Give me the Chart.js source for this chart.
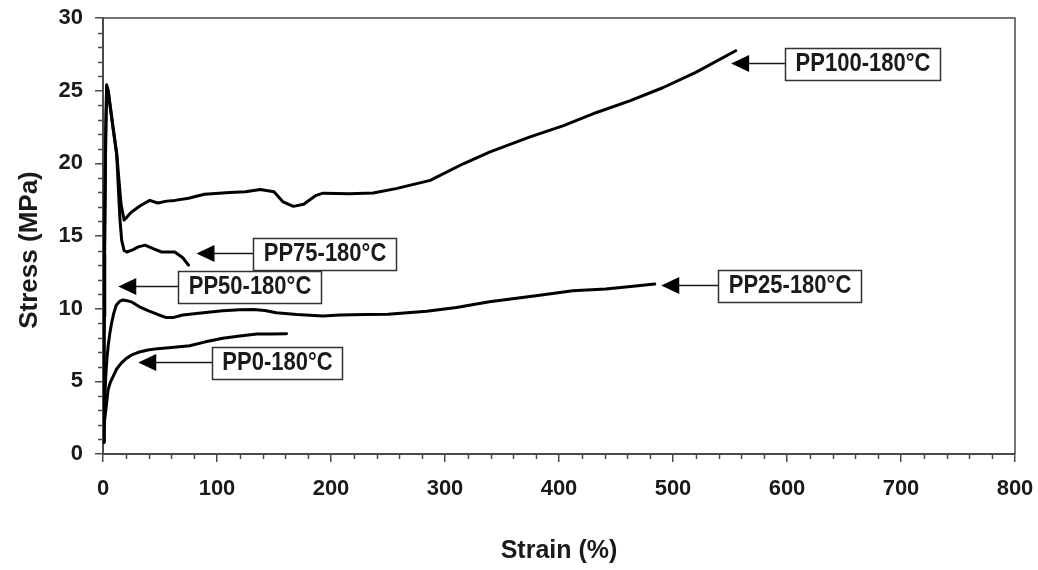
<!DOCTYPE html>
<html>
<head>
<meta charset="utf-8">
<script src="https://cdn.jsdelivr.net/npm/chart.js@4/dist/chart.umd.min.js"></script>
<style>
  html, body { margin: 0; padding: 0; background: #fff; }
  canvas { display: block; }
</style>
</head>
<body>
<canvas id="chart" width="1038" height="570"></canvas>
<script>
// Tensile stress-strain curves of PP blends processed at 180 °C.
// Strain in %, stress in MPa.

const pp100Strain = [0, 0.8, 1.6, 2.4, 3.2, 4.6, 6.1, 9, 12, 15.8, 18.5, 21, 25, 33, 41, 48, 56, 63, 75, 89, 111, 125, 138, 150, 158, 167, 176, 187, 193, 216, 237, 257, 287, 316, 339, 374, 404, 433, 462, 491, 520, 555];
const pp100Stress = [0.8, 8, 16, 22, 25.4, 25.0, 24.1, 22.4, 20.7, 17.2, 16.1, 16.3, 16.65, 17.1, 17.45, 17.27, 17.4, 17.45, 17.6, 17.87, 18.0, 18.05, 18.2, 18.05, 17.34, 17.04, 17.18, 17.8, 17.95, 17.9, 17.96, 18.26, 18.83, 19.97, 20.77, 21.8, 22.6, 23.5, 24.3, 25.2, 26.26, 27.75];

const pp75Strain = [0, 0.8, 1.6, 2.4, 3.2, 4.6, 6.1, 9, 12, 14.9, 16.4, 18.5, 20.8, 26, 31, 36.8, 45, 51.5, 63, 70, 75];
const pp75Stress = [0.8, 8, 16, 22, 25.3, 24.9, 24.0, 22.3, 20.6, 16.1, 14.7, 14.0, 13.9, 14.05, 14.25, 14.37, 14.1, 13.9, 13.9, 13.5, 13.0];

const pp50Strain = [0, 0.5, 1.0, 1.4, 1.7];
const pp50Stress = [0.8, 5, 9.5, 12.5, 13.7];

const pp25Strain = [0, 0.8, 1.6, 2.6, 3.5, 4.6, 6, 7.5, 9.5, 11.7, 14.5, 17.5, 21, 24.8, 32, 40, 48, 55, 62, 70, 88, 105, 120, 132, 142, 152, 170, 193, 208, 230, 250, 284, 310, 339, 383, 412, 441, 465, 484];
const pp25Stress = [0.8, 2.4, 4.0, 5.6, 6.6, 7.5, 8.3, 9.0, 9.7, 10.25, 10.5, 10.6, 10.55, 10.47, 10.13, 9.85, 9.6, 9.4, 9.4, 9.56, 9.72, 9.86, 9.92, 9.95, 9.88, 9.72, 9.6, 9.49, 9.56, 9.6, 9.62, 9.83, 10.08, 10.47, 10.93, 11.23, 11.35, 11.55, 11.69];

const pp0Strain = [0, 0.8, 1.5, 2.9, 4.4, 6.5, 8.8, 12, 16, 20, 24.8, 31, 39.4, 48, 60, 76, 89, 105, 120, 135, 148, 161];
const pp0Stress = [0.8, 1.6, 2.4, 3.3, 4.4, 4.95, 5.33, 5.85, 6.25, 6.55, 6.8, 7.0, 7.16, 7.25, 7.33, 7.45, 7.7, 7.96, 8.12, 8.26, 8.26, 8.28];

const seriesNames = ['PP100-180°C', 'PP75-180°C', 'PP50-180°C', 'PP25-180°C', 'PP0-180°C'];
const xTicks = [0, 100, 200, 300, 400, 500, 600, 700, 800];
const yTicks = [0, 5, 10, 15, 20, 25, 30];
const yTitle = 'Stress (MPa)';
const xTitle = 'Strain (%)';

// Callout placement: arrow tip and left edge of the label box, in axis units.
const callouts = [
  { name: seriesNames[0], tipX: 551, tipY: 26.88, boxX: 598 },
  { name: seriesNames[1], tipX: 82, tipY: 13.8, boxX: 131.5 },
  { name: seriesNames[2], tipX: 13.4, tipY: 11.55, boxX: 66 },
  { name: seriesNames[3], tipX: 489.7, tipY: 11.62, boxX: 539.4 },
  { name: seriesNames[4], tipX: 30.9, tipY: 6.36, boxX: 95.3 }
];

const FAMILY = "'Liberation Sans', Arial, sans-serif";
const TICK_SIZE = 22;
const TITLE_SIZE = 25;
const NOTE_SIZE = 22;
const INK = '#1a1a1a';
const AXIS = '#4a4a4a';

// Plot rectangle inside the 1038x570 canvas.
const PLOT = { left: 103, top: 18, right: 1015, bottom: 454 };

function toPoints(xs, ys) {
  return xs.map((x, i) => ({ x: x, y: ys[i] }));
}

const curves = [
  [pp100Strain, pp100Stress],
  [pp75Strain, pp75Stress],
  [pp50Strain, pp50Stress],
  [pp25Strain, pp25Stress],
  [pp0Strain, pp0Stress]
];

const datasets = curves.map((c, i) => ({
  label: seriesNames[i],
  data: toPoints(c[0], c[1]),
  borderColor: '#000',
  borderWidth: 3,
  pointRadius: 0,
  tension: 0,
  fill: false,
  borderJoinStyle: 'round',
  borderCapStyle: 'round'
}));

// Frame, minor ticks, vertical axis title and the labelled arrows.
const decorations = {
  id: 'decorations',
  beforeDatasetsDraw(chart) {
    const { ctx, chartArea: a, scales: { x, y } } = chart;
    ctx.save();
    ctx.strokeStyle = AXIS;
    ctx.lineWidth = 1.5;
    ctx.beginPath();
    ctx.moveTo(a.left, a.top);
    ctx.lineTo(a.right, a.top);
    ctx.lineTo(a.right, a.bottom);
    ctx.stroke();
    ctx.beginPath();
    for (let v = 20; v < 800; v += 20) {
      if (v % 100 === 0) continue;
      const px = Math.round(x.getPixelForValue(v)) + 0.5;
      ctx.moveTo(px, a.bottom);
      ctx.lineTo(px, a.bottom + 5);
    }
    for (let v = 1; v < 30; v += 1) {
      if (v % 5 === 0) continue;
      const py = Math.round(y.getPixelForValue(v)) + 0.5;
      ctx.moveTo(a.left - 5, py);
      ctx.lineTo(a.left, py);
    }
    ctx.stroke();

    // vertical axis title
    ctx.translate(30, 250);
    ctx.rotate(-Math.PI / 2);
    ctx.font = 'bold 26px ' + FAMILY;
    ctx.fillStyle = INK;
    ctx.textAlign = 'center';
    ctx.textBaseline = 'middle';
    ctx.fillText(yTitle, 0, 0);
    ctx.restore();
  },
  afterDatasetsDraw(chart) {
    const { ctx, scales: { x, y } } = chart;
    ctx.save();
    ctx.font = 'bold ' + NOTE_SIZE + 'px ' + FAMILY;
    ctx.textBaseline = 'middle';
    ctx.textAlign = 'center';
    callouts.forEach(c => {
      const tx = x.getPixelForValue(c.tipX);
      const ty = Math.round(y.getPixelForValue(c.tipY)) + 0.5;
      const bx = Math.round(x.getPixelForValue(c.boxX)) + 0.5;
      const tw = ctx.measureText(c.name).width;
      const bw = Math.round(tw + 20);
      const bh = 32;
      // arrow shaft
      ctx.strokeStyle = INK;
      ctx.lineWidth = 1.5;
      ctx.beginPath();
      ctx.moveTo(tx + 14, ty);
      ctx.lineTo(bx, ty);
      ctx.stroke();
      // arrow head
      ctx.fillStyle = '#000';
      ctx.beginPath();
      ctx.moveTo(tx, ty);
      ctx.lineTo(tx + 18, ty - 8.5);
      ctx.lineTo(tx + 18, ty + 8.5);
      ctx.closePath();
      ctx.fill();
      // label box
      const by = Math.round(ty - bh / 2) + 0.5;
      ctx.fillStyle = '#fff';
      ctx.fillRect(bx, by, bw, bh);
      ctx.strokeStyle = '#333';
      ctx.lineWidth = 1.5;
      ctx.strokeRect(bx, by, bw, bh);
      // label text, slightly tall
      ctx.save();
      ctx.translate(bx + bw / 2, ty + 1);
      ctx.scale(1, 1.15);
      ctx.fillStyle = INK;
      ctx.fillText(c.name, 0, 0);
      ctx.restore();
    });
    ctx.restore();
  }
};

const tickFont = { family: FAMILY, size: TICK_SIZE, weight: 'bold' };
const titleFont = { family: FAMILY, size: TITLE_SIZE, weight: 'bold' };

new Chart(document.getElementById('chart'), {
  type: 'line',
  data: { datasets: datasets },
  options: {
    responsive: false,
    animation: false,
    devicePixelRatio: 1,
    layout: { padding: { top: PLOT.top, right: 1038 - PLOT.right, bottom: 0, left: 0 } },
    plugins: { legend: { display: false }, tooltip: { enabled: false } },
    scales: {
      x: {
        type: 'linear',
        min: 0,
        max: 800,
        afterBuildTicks(scale) { scale.ticks = xTicks.map(v => ({ value: v })); },
        ticks: { font: tickFont, color: INK, padding: 14, maxRotation: 0, autoSkip: false },
        grid: { display: true, drawOnChartArea: false, drawTicks: true, tickLength: 8, color: AXIS, lineWidth: 1.5 },
        border: { display: true, color: AXIS, width: 2 },
        title: { display: true, text: xTitle, font: titleFont, color: INK, padding: { top: 0, bottom: 4 } },
        afterFit(scale) {
          scale.height = 570 - PLOT.bottom;
          scale.paddingLeft = 0;
          scale.paddingRight = 0;
        }
      },
      y: {
        type: 'linear',
        min: 0,
        max: 30,
        afterBuildTicks(scale) { scale.ticks = yTicks.map(v => ({ value: v })); },
        ticks: { font: tickFont, color: INK, padding: 12, autoSkip: false },
        grid: { display: true, drawOnChartArea: false, drawTicks: true, tickLength: 8, color: AXIS, lineWidth: 1.5 },
        border: { display: true, color: AXIS, width: 2 },
        title: { display: false },
        afterFit(scale) {
          scale.width = PLOT.left;
          scale.paddingTop = 0;
          scale.paddingBottom = 0;
        }
      }
    }
  },
  plugins: [decorations]
});
</script>
</body>
</html>
